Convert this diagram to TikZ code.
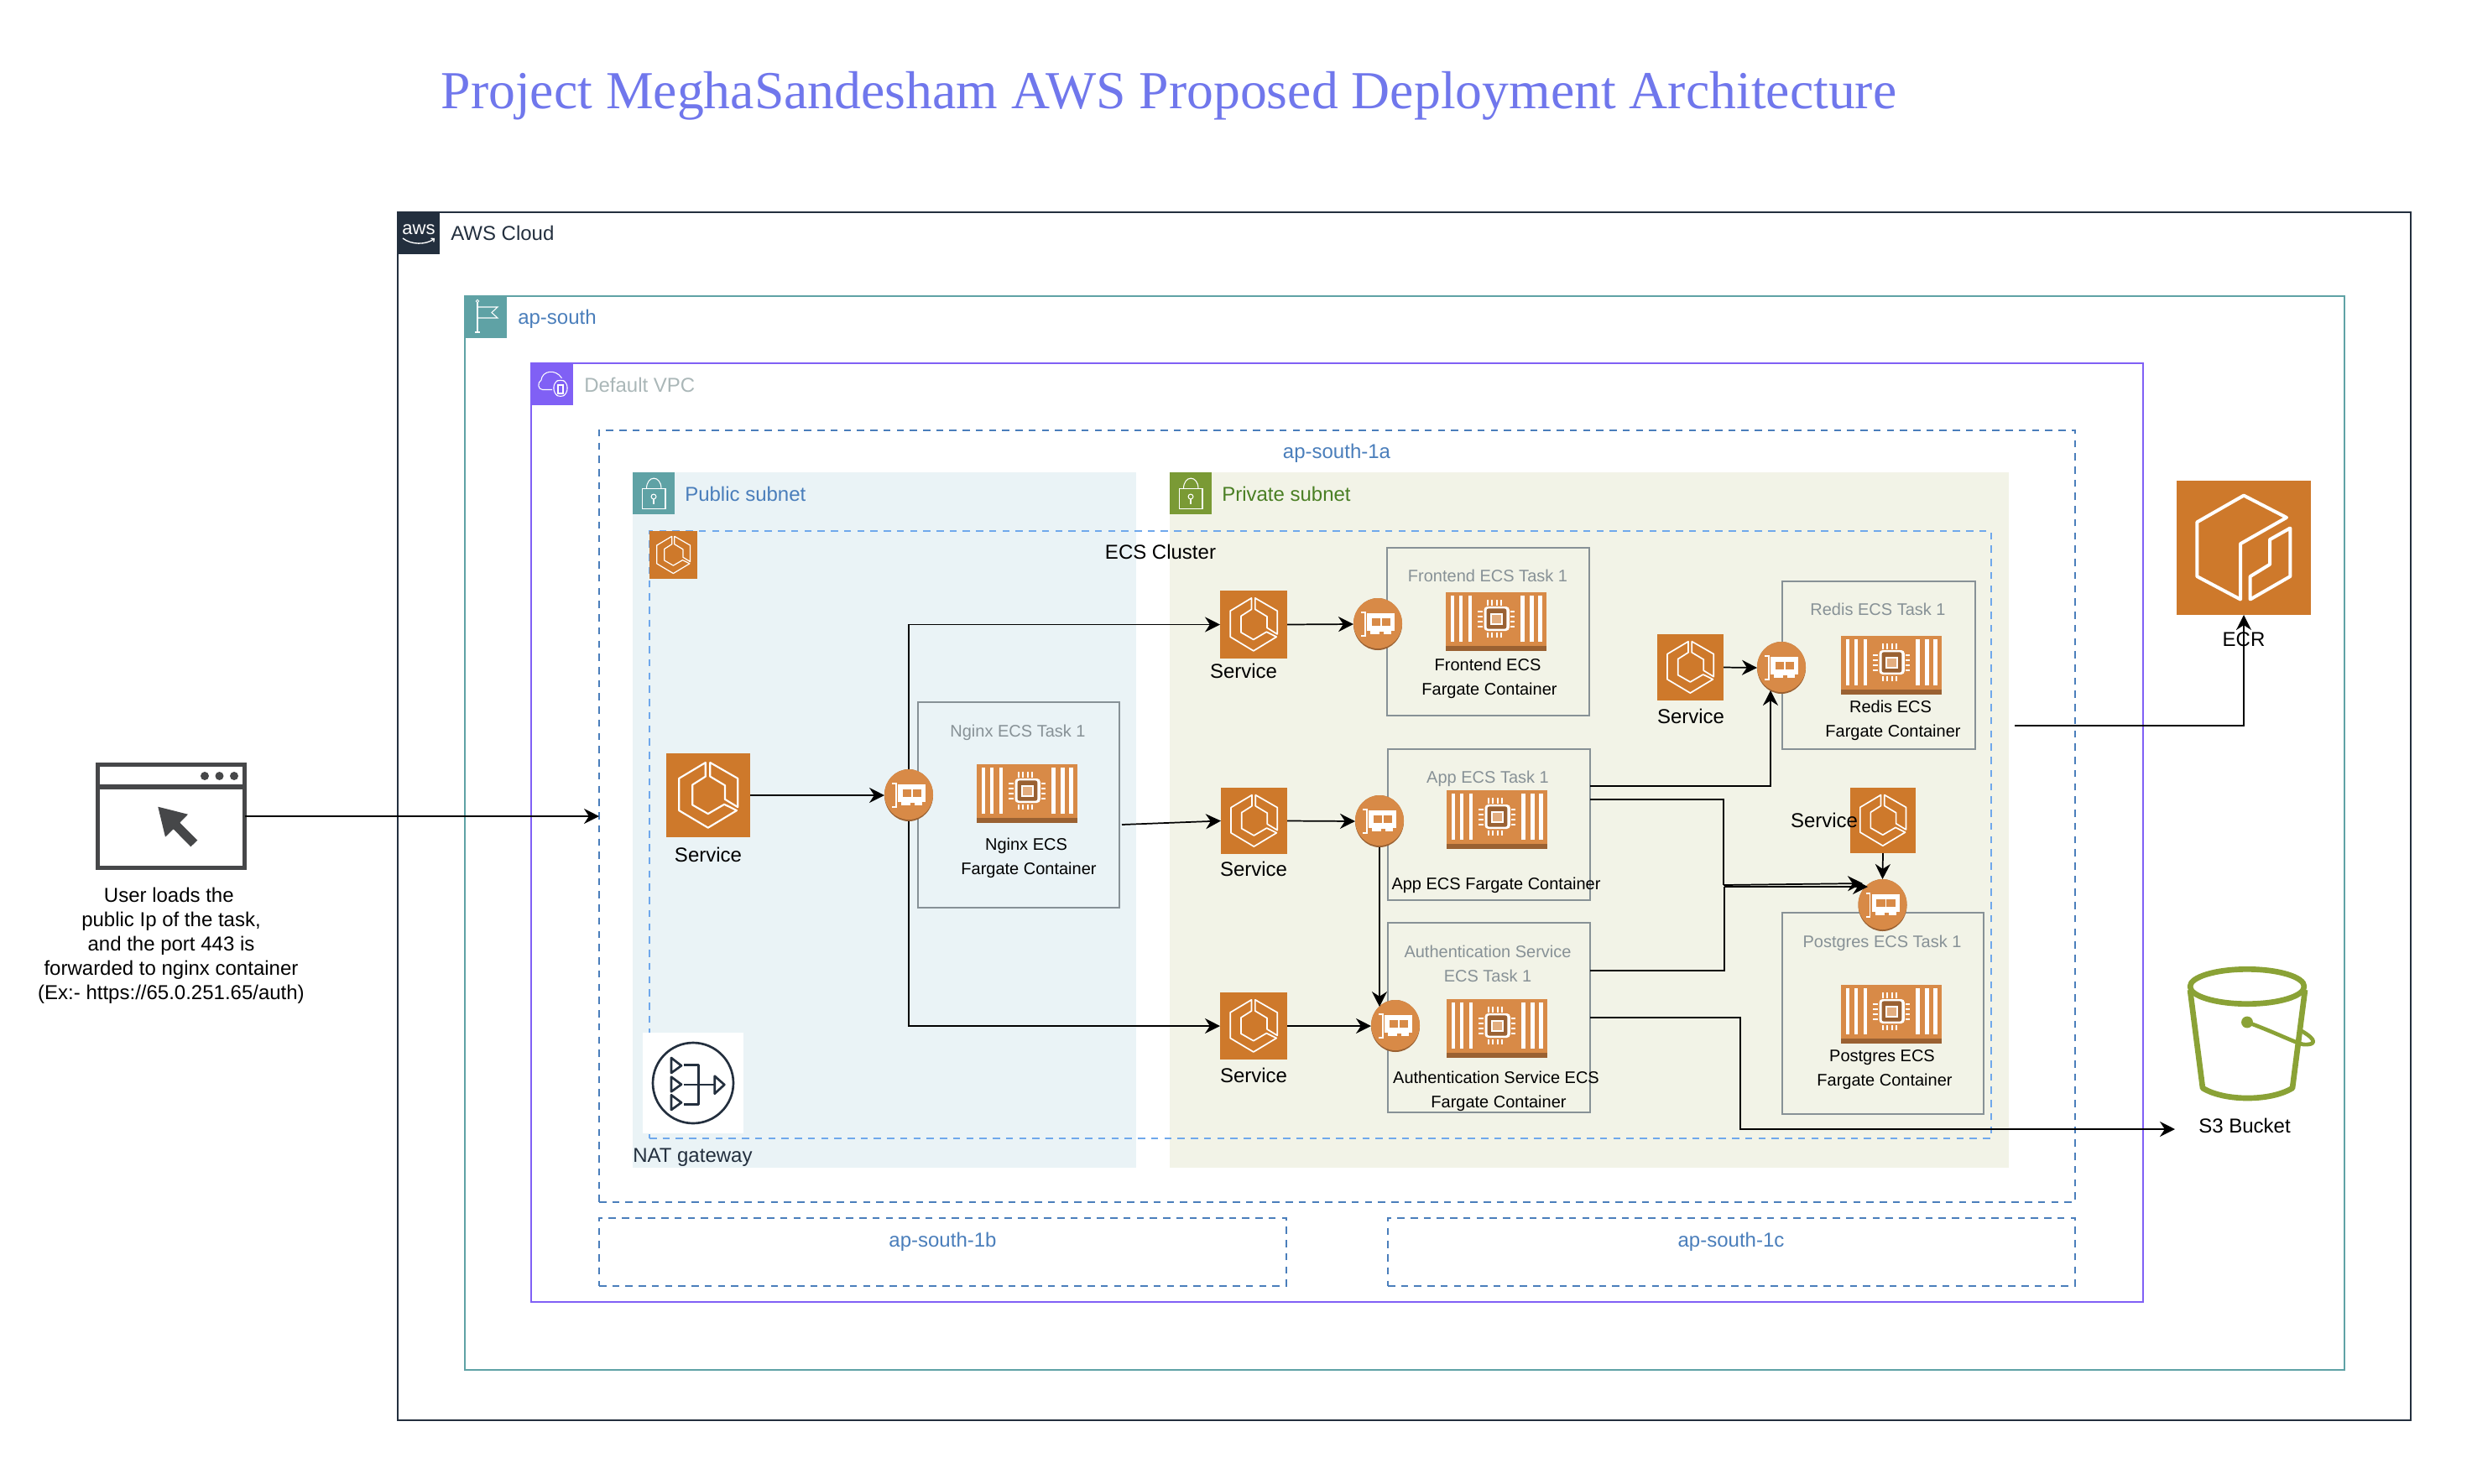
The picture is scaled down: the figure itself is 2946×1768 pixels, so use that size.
\documentclass[tikz,border=0pt]{standalone}
\usepackage{fontspec}
\setmainfont{Liberation Sans}
\newfontfamily\titlefont{Liberation Serif}
\usetikzlibrary{arrows.meta,shapes.geometric}

\definecolor{awsdark}{HTML}{232F3E}
\definecolor{regionteal}{HTML}{5FA2A5}
\definecolor{vpcpurple}{HTML}{8060F5}
\definecolor{zoneblue}{HTML}{4A7EBB}
\definecolor{clusterblue}{HTML}{6FA8EC}
\definecolor{labelgray}{HTML}{AAB7B8}
\definecolor{taskgray}{HTML}{879196}
\definecolor{pubfill}{HTML}{EAF3F6}
\definecolor{privfill}{HTML}{F2F3E7}
\definecolor{privgreen}{HTML}{7A9A35}
\definecolor{privtext}{HTML}{4A7F24}
\definecolor{ecsorange}{HTML}{CE792B}
\definecolor{liteorange}{HTML}{D88A47}
\definecolor{darkorange}{HTML}{9A6132}
\definecolor{chiplight}{HTML}{E3AE80}
\definecolor{bucketgreen}{HTML}{8AA236}
\definecolor{windowgray}{HTML}{464749}
\definecolor{titleblue}{HTML}{7077EC}

\tikzset{
    wh/.style 2 args={minimum width=#1*.75pt,minimum height=#2*.75pt},
    zone/.style={anchor=north west,inner sep=0pt,outer sep=0pt,line width=1.3pt},
    dashzone/.style={zone,draw=zoneblue,dash pattern=on 6.4pt off 5.4pt,line width=1.1pt},
    header/.style={zone,wh={50}{50},fill=#1},
    taskbox/.style={zone,draw=taskgray},
    bigtxt/.style={inner sep=0pt,font=\fontsize{18}{21.6}\selectfont,text height=12.75pt,text depth=0pt},
    smalltxt/.style={inner sep=0pt,font=\fontsize{15}{18}\selectfont,text height=11pt,text depth=0pt},
    flow/.style={draw=black,line width=1.3pt,-{Stealth[length=13.5pt,width=13.5pt]}},
    plainflow/.style={draw=black,line width=1.3pt},
    iconline/.style={draw=white,line join=round,fill=none}
}

% ecs hexagon on an orange square
\newcommand{\ecsicon}[5]{%
    \node[zone,fill=ecsorange,wh={#4}{#5}] (#1) at (#2,#3) {};
    \begin{scope}[shift={(#1.north west)},x={#4*.75pt},y={-#5*.75pt}]
        \draw[iconline,line width={#4*.016pt}] (.468,.11) -- (.152,.299) -- (.152,.681) -- (.498,.887) -- (.84,.681) -- (.692,.608) -- (.498,.721) -- (.312,.615) -- (.312,.375) -- (.468,.276) -- cycle;
        \draw[iconline,line width={#4*.016pt}] (.523,.11) -- (.852,.299) -- (.852,.641) -- (.7,.548) -- (.7,.382) -- (.523,.276) -- cycle;
    \end{scope}
}

% network interface
\newcommand{\eniicon}[3]{%
    \node[ellipse,fill=darkorange,inner sep=0pt,outer sep=0pt,wh={58}{62}] (#1) at (#2,#3) {};
    \begin{scope}[shift={(#1.center)}]
        \fill[liteorange] (0,-1) ellipse [x radius=21.75pt,y radius=22.5pt];
        \draw[white,line width=1pt] (-20,-14) -- (-15,-14) -- (-15,14) -- (-20,14);
        \fill[white] (-12.6,-13) rectangle (20,8);
        \fill[white] (-9,8) rectangle (16,11.5);
        \fill[liteorange] (-7.2,-6.7) rectangle (3.4,2.3);
        \fill[liteorange] (4.6,-6.7) rectangle (15,2.3);
        \fill[liteorange] (2,9) rectangle (7,11.5);
    \end{scope}
}

% fargate container
\newcommand{\fargateicon}[3]{%
    \node[zone,fill=liteorange,wh={120}{70}] (#1) at (#2,#3) {};
    \begin{scope}[shift={(#1.north west)}]
        \fill[darkorange] (0,63.5) rectangle (120,70);
        \foreach \barx in {5.5,15.6,26.5,89,99.7,110}
            \fill[white] (\barx,4.3) rectangle (\barx+4.8,59.3);
        \foreach \pinx in {48.5,54,59.5,65}
            \fill[white] (\pinx,9.3) rectangle (\pinx+2.4,54);
        \foreach \piny in {21.5,27.5,33.5,39.5}
            \fill[white] (38,\piny) rectangle (82,\piny+2.4);
        \fill[liteorange] (44,15.5) rectangle (77,48);
        \fill[white,rounded corners=3pt] (45.5,17) rectangle (75.8,46);
        \fill[darkorange,rounded corners=2pt] (48.5,19.3) rectangle (72.4,43.7);
        \fill[white] (52.5,25) rectangle (67.5,39);
        \fill[chiplight] (54.5,27) rectangle (65.5,37);
    \end{scope}
}

% padlock for the subnets
\newcommand{\lockicon}[1]{%
    \begin{scope}[shift={(#1.north west)}]
        \draw[white,line width=.8pt] (11.4,19.6) rectangle (39,43.7);
        \draw[white,line width=.8pt] (16.5,19.6) .. controls (16.5,3) and (34,3) .. (34,19.6);
        \draw[white,line width=.8pt] (25,29) circle (2.2pt);
        \draw[white,line width=.8pt] (25,32) -- (25,38);
    \end{scope}
}

\begin{document}
\begin{tikzpicture}[x=.75pt,y=-.75pt]
    \path[use as bounding box,fill=white] (0,0) rectangle (2946,1768);

    \node[font=\titlefont\fontsize{47.8}{56}\selectfont,text=titleblue,inner sep=0pt] (title) at (1393,114) {Project MeghaSandesham AWS Proposed Deployment Architecture};

    % groups
    \node[zone,draw=awsdark,wh={2399}{1440}] (cloud) at (474,253) {};
    \node[zone,draw=regionteal,wh={2240}{1280}] (region) at (554,353) {};
    \node[zone,draw=vpcpurple,wh={1921}{1119}] (vpc) at (633,433) {};
    \node[dashzone,wh={1759}{920}] (aza) at (714,513) {};
    \node[dashzone,wh={819}{81}] (azb) at (714,1452) {};
    \node[dashzone,wh={819}{81}] (azc) at (1654,1452) {};
    \node[zone,fill=pubfill,wh={600}{829}] (pubnet) at (754,563) {};
    \node[zone,fill=privfill,wh={1000}{829}] (privnet) at (1394,563) {};
    \node[zone,draw=clusterblue,dash pattern=on 6.4pt off 5.4pt,line width=1.1pt,wh={1599}{724}] (cluster) at (774,633) {};

    % group headers
    \node[header=awsdark] (cloudtag) at (474,253) {};
    \node[inner sep=0pt,text=white,font=\fontsize{16.5}{18}\selectfont] (awsmark) at (499,274) {aws};
    \draw[white,line width=1pt,-{Straight Barb[length=2pt]}] (480,284) .. controls (490,292) and (508,292) .. (518,284);
    \node[header=regionteal] (regiontag) at (554,353) {};
    \begin{scope}[shift={(regiontag.north west)}]
        \draw[white,line width=.8pt] (15,8) -- (15,43);
        \draw[white,line width=.8pt] (12,43) -- (18,43);
        \draw[white,line width=.8pt] (15,13) -- (39,13) -- (32,19.6) -- (39,26) -- (15,26);
        \draw[white,line width=.6pt] (15,6) circle (1.3pt);
    \end{scope}
    \node[header=vpcpurple] (vpctag) at (633,433) {};
    \begin{scope}[shift={(vpctag.north west)}]
        \draw[white,line width=.8pt] (25,31.5) -- (13.6,31.5) .. controls (8,31.5) and (7,23) .. (12,20) .. controls (13,9) and (29,6) .. (36.5,17.7);
        \draw[white,line width=.8pt,rounded corners=4pt] (27,23) -- (35,19) -- (43,23) -- (43,36) -- (35,41) -- (27,36) -- cycle;
        \draw[white,line width=.8pt] (32,26) rectangle (38,36);
    \end{scope}
    \node[header=regionteal] (pubtag) at (754,563) {};
    \lockicon{pubtag}
    \node[header=privgreen] (privtag) at (1394,563) {};
    \lockicon{privtag}

    \node[bigtxt,anchor=west,text=awsdark] (cloudlbl) at (537,278) {AWS Cloud};
    \node[bigtxt,anchor=west,text=zoneblue] (regionlbl) at (617,378) {ap-south};
    \node[bigtxt,anchor=west,text=labelgray] (vpclbl) at (696,459) {Default VPC};
    \node[bigtxt,anchor=west,text=zoneblue] (publbl) at (816,589) {Public subnet};
    \node[bigtxt,anchor=west,text=privtext] (privlbl) at (1456,589) {Private subnet};
    \node[bigtxt,text=zoneblue] (azalbl) at (1593,538) {ap-south-1a};
    \node[bigtxt,text=zoneblue] (azblbl) at (1123.5,1478) {ap-south-1b};
    \node[bigtxt,text=zoneblue] (azclbl) at (2063,1478) {ap-south-1c};
    \node[bigtxt] (clusterlbl) at (1383,658) {ECS Cluster};
    \ecsicon{clustertag}{774}{633}{57}{57}

    % user
    \node[zone,draw=windowgray,fill=white,line width=4.1pt,wh={175}{123}] (user) at (116.5,911.5) {};
    \begin{scope}[shift={(user.north west)}]
        \draw[windowgray,line width=4.1pt] (0,26.5) -- (175,26.5);
        \foreach \dotx in {127.5,145,162.5}
            \fill[windowgray] (\dotx,13.5) circle (3.75pt);
        \fill[windowgray] (71.8,50.2) -- (107.5,59.2) -- (97.8,69.2) -- (118.8,90.2) -- (110.8,97.8) -- (90.2,76.8) -- (80.5,86.2) -- cycle;
    \end{scope}
    \node[inner sep=0pt,align=center,font=\fontsize{18}{21.7}\selectfont] (userlbl) at (204,1127) {User loads the\hspace*{4pt}\\public Ip of the task,\\and the port 443 is\hspace*{4pt}\\forwarded to nginx container\\(Ex:- https://65.0.251.65/auth)};

    % nginx
    \ecsicon{svcn}{794}{898}{100}{100}
    \node[bigtxt] (svcnlbl) at (844,1019) {Service};
    \node[taskbox,wh={240}{245}] (nginxtask) at (1094,837) {};
    \node[smalltxt,text=taskgray] (nginxttl) at (1213,871) {Nginx ECS Task 1};
    \fargateicon{farn}{1164}{911}
    \node[smalltxt] (nginxa) at (1223,1006) {Nginx ECS};
    \node[smalltxt] (nginxb) at (1226,1035) {Fargate Container};

    % frontend
    \ecsicon{svcf}{1454}{704}{80}{81}
    \node[bigtxt] (svcflbl) at (1482,800) {Service};
    \node[taskbox,wh={241}{200}] (fronttask) at (1653,653) {};
    \node[smalltxt,text=taskgray] (frontttl) at (1773,686) {Frontend ECS Task 1};
    \fargateicon{farf}{1723}{706}
    \node[smalltxt] (fronta) at (1773,792) {Frontend ECS};
    \node[smalltxt] (frontb) at (1775,821) {Fargate Container};

    % app
    \ecsicon{svca}{1455}{939}{79}{79}
    \node[bigtxt] (svcalbl) at (1494,1036) {Service};
    \node[taskbox,wh={241}{180}] (apptask) at (1654,893) {};
    \node[smalltxt,text=taskgray] (appttl) at (1773,926) {App ECS Task 1};
    \fargateicon{fara}{1724}{942}
    \node[smalltxt] (appa) at (1783,1053) {App ECS Fargate Container};

    % auth
    \ecsicon{svcu}{1454}{1183}{80}{80}
    \node[bigtxt] (svculbl) at (1494,1282) {Service};
    \node[taskbox,wh={241}{226}] (authtask) at (1654,1100) {};
    \node[smalltxt,text=taskgray] (authttla) at (1773,1134) {Authentication Service};
    \node[smalltxt,text=taskgray] (authttlb) at (1773,1163) {ECS Task 1};
    \fargateicon{faru}{1724}{1191}
    \node[smalltxt] (autha) at (1783,1284) {Authentication Service ECS};
    \node[smalltxt] (authb) at (1786,1313) {Fargate Container};

    % redis
    \ecsicon{svcr}{1975}{756}{79}{79}
    \node[bigtxt] (svcrlbl) at (2015,854) {Service};
    \node[taskbox,wh={230}{200}] (redistask) at (2124,693) {};
    \node[smalltxt,text=taskgray] (redisttl) at (2238,726) {Redis ECS Task 1};
    \fargateicon{farr}{2194}{758}
    \node[smalltxt] (redisa) at (2253,842) {Redis ECS};
    \node[smalltxt] (redisb) at (2256,871) {Fargate Container};

    % postgres
    \ecsicon{svcp}{2205}{939}{78}{78}
    \node[bigtxt] (svcplbl) at (2174,978) {Service};
    \node[taskbox,wh={240}{240}] (pgtask) at (2124,1088) {};
    \node[smalltxt,text=taskgray] (pgttl) at (2243,1122) {Postgres ECS Task 1};
    \fargateicon{farp}{2194}{1174}
    \node[smalltxt] (pga) at (2243,1258) {Postgres ECS};
    \node[smalltxt] (pgb) at (2246,1287) {Fargate Container};

    % interfaces
    \eniicon{enin}{1083}{948}
    \eniicon{enif}{1642}{744}
    \eniicon{enia}{1644}{979}
    \eniicon{eniu}{1663}{1223}
    \eniicon{enir}{2123}{796}
    \eniicon{enip}{2243.5}{1079}

    % nat gateway
    \node[zone,fill=white,wh={120}{120}] (nat) at (766,1231) {};
    \begin{scope}[shift={(nat.center)},line width=2pt,line join=round]
        \draw[awsdark] (0,0) circle (36pt);
        \draw[awsdark] (-26,-30) -- (-14,-20.7) -- (-26,-12) -- cycle;
        \draw[awsdark] (-26,-7.3) -- (-14,1.7) -- (-26,10.3) -- cycle;
        \draw[awsdark] (-26,14.3) -- (-14,23.3) -- (-26,32) -- cycle;
        \draw[awsdark] (-11,-21.7) -- (6.3,-21.7) -- (6.3,25.3) -- (-11,25.3);
        \draw[awsdark] (-11,2) -- (25.7,2);
        \draw[awsdark] (25.7,-8.3) -- (37.3,2) -- (25.7,12.7) -- cycle;
    \end{scope}
    \node[bigtxt,anchor=west,text=awsdark] (natlbl) at (754,1377) {NAT gateway};

    % ecr
    \node[zone,fill=ecsorange,wh={160}{160}] (ecr) at (2594,573) {};
    \begin{scope}[shift={(ecr.north west)},line width=3pt,line join=round]
        \draw[white] (24.3,49.4) -- (80,17.6) -- (131,43.9) -- (76,75.2) -- (76,141.5) -- (24.3,114.1) -- cycle;
        \draw[white] (111,70.2) -- (135.3,56.5) -- (135.3,114.1) -- (87.7,141.5) -- (87.7,114.1) -- (111,99.8) -- cycle;
    \end{scope}
    \node[bigtxt] (ecrlbl) at (2674,762) {ECR};

    % s3
    \node[zone,wh={153}{159}] (bucket) at (2606,1153) {};
    \begin{scope}[shift={(bucket.north west)},line join=round]
        \draw[bucketgreen,line width=5pt] (72,23) ellipse [x radius=51pt,y radius=15.5pt];
        \draw[bucketgreen,line width=5pt] (4,27) -- (19,144) .. controls (45,160) and (100,160) .. (126,144) -- (141,27);
        \fill[bucketgreen] (72,65.5) circle (5.2pt);
        \draw[bucketgreen,line width=3.5pt] (72,65.5) .. controls (104,77) and (129,90) .. (139,92) .. controls (154,93) and (156,87) .. (137,76);
    \end{scope}
    \node[bigtxt] (bucketlbl) at (2675,1342) {S3 Bucket};

    % lines
    \draw[flow] (user.east |- 0,973) -- (aza.west |- 0,973);
    \draw[flow] (svcn.east) -- (enin.west);
    \draw[flow] (enin.north) |- (svcf.west);
    \draw[flow] (enin.south) |- (svcu.west);
    \draw[flow] (nginxtask.east |- 0,983) ++(3,0) -- (svca.west);
    \draw[flow] (svcf.east) -- (enif.west);
    \draw[flow] (svca.east) -- (enia.west);
    \draw[flow] (svcu.east) -- (eniu.west);
    \draw[flow] (svcr.east) -- (enir.west);
    \draw[flow] (enia.south) -- (enia.south |- 0,1200);
    \draw[flow] (svcp.south) -- (enip.north);
    \draw[flow] (apptask.east |- 0,937) -| (2110,823);
    \draw[plainflow] (apptask.east |- 0,953) -- (2054,953) -- (2054,1055);
    \draw[flow] (2054,1055) -- (2220,1053);
    \draw[plainflow] (authtask.east |- 0,1157) -- (2055,1157) -- (2055,1057);
    \draw[flow] (2055,1057) -- (2226,1057);
    \draw[flow] (authtask.east |- 0,1213) -- (2074,1213) |- (2592,1346);
    \coordinate (ecrstart) at (2401,865);
    \draw[flow] (ecrstart) -| (ecr.south);
\end{tikzpicture}
\end{document}
